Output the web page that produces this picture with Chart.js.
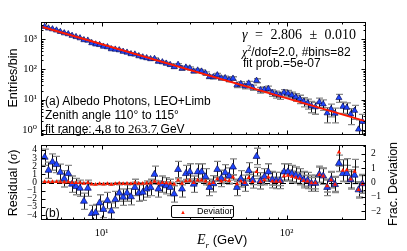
<!DOCTYPE html>
<html lang="en">
<head>
<meta charset="UTF-8">
<title>Albedo Photons, LEO+Limb</title>
<script src="https://cdn.jsdelivr.net/npm/chart.js"></script>
<style>
  body { margin: 0; background: #fff; }
  #fig { position: relative; width: 407px; height: 251px; overflow: hidden; background: #fff;
         font-family: "Liberation Sans", Arial, sans-serif; color: #000; }
  canvas { position: absolute; left: 0; }
  #cTop { top: 0; }
  #cBot { top: 140px; }
  .txt { position: absolute; white-space: nowrap; font-size: 12px; line-height: 14px; }
  .m { font-family: "Liberation Serif", serif; }
  .rot { position: absolute; white-space: nowrap; font-size: 12.5px; line-height: 14px;
         transform: translate(-50%, -50%) rotate(-90deg); }
  .leg { position: absolute; left: 171px; top: 205px; width: 63px; height: 13px; box-sizing: border-box;
         border: 1px solid #000; border-radius: 2px; background: #fff; }
  .leg .tri { position: absolute; left: 8px; top: 2px; font-size: 6px; line-height: 8px; color: #ff1a00; }
  .leg .lab { position: absolute; left: 25px; top: 0px; font-size: 9px; line-height: 11px; }
</style>
</head>
<body>
<div id="fig">
  <canvas id="cTop" width="407" height="140"></canvas>
  <canvas id="cBot" width="407" height="111"></canvas>

  <div class="txt m" style="left:242px; top:28px; font-size:14px; word-spacing:4px;"><i>γ</i> = 2.806 ± 0.010</div>
  <div class="txt" style="left:242px; top:42px;"><span class="m"><i>χ</i><sup style="font-size:8px">2</sup></span>/dof=2.0, #bins=82</div>
  <div class="txt" style="left:243px; top:56px;">fit prob.=5e-07</div>

  <div class="txt" style="left:45px; top:94px;">(a) Albedo Photons, LEO+Limb</div>
  <div class="txt" style="left:45px; top:108px;">Zenith angle 110° to 115°</div>
  <div class="txt" style="left:45px; top:122px;">fit range: <span class="m" style="font-size:13px">4.8</span> to <span class="m" style="font-size:13px">263.7</span> GeV</div>
  <div class="txt" style="left:45px; top:206px;">(b)</div>

  <div class="leg"><span class="tri">▲</span><span class="lab">Deviation</span></div>

  <div class="rot" style="left:13px; top:78px;">Entries/bin</div>
  <div class="rot" style="left:13px; top:183px;">Residual (<span class="m"><i>σ</i></span>)</div>
  <div class="rot" style="left:393px; top:184px;">Frac. Deviation</div>
  <div class="txt" style="left:197px; top:233px; font-size:13px;"><span class="m" style="font-size:14px"><i>E</i><sub style="font-size:9px"><i>r</i></sub></span> (GeV)</div>
</div>

<script>
// bin centres (GeV), 82 log bins from 4.8 to 263.7
const binCenters = [4.92, 5.16, 5.42, 5.70, 5.98, 6.28, 6.60, 6.92, 7.27, 7.64,
  8.02, 8.42, 8.84, 9.28, 9.75, 10.23, 10.75, 11.28, 11.85, 12.45,
  13.07, 13.72, 14.41, 15.13, 15.89, 16.69, 17.52, 18.40, 19.32, 20.29,
  21.30, 22.37, 23.49, 24.66, 25.90, 27.20, 28.56, 29.99, 31.49, 33.07,
  34.73, 36.47, 38.29, 40.21, 42.23, 44.34, 46.56, 48.89, 51.34, 53.91,
  56.61, 59.43, 62.41, 65.55, 68.83, 72.27, 75.89, 79.69, 83.69, 87.87,
  92.26, 96.88, 101.7, 106.8, 112.2, 117.8, 123.7, 129.9, 136.4, 143.2,
  150.4, 157.9, 165.8, 174.1, 182.9, 192.0, 201.6, 211.7, 222.3, 233.4,
  245.1, 257.4];

// entries per bin and their errors
const counts = [2591, 2300, 2156, 1968, 1768, 1591, 1483, 1314, 1194, 1087,
  944, 911, 750, 683, 651, 575, 550, 473, 460, 436,
  389, 365, 325, 316, 278, 255, 239, 222, 226, 183,
  175, 158, 142, 121, 144.5, 106.7, 117.2, 110.2, 86.5, 93.5,
  86.4, 74.1, 57.8, 56.1, 65.2, 51.6, 52.5, 45.6, 50.3, 30.5,
  33.6, 28.0, 34.7, 25.4, 42.8, 21.0, 21.6, 23.1, 16.9, 15.2,
  13.9, 17.3, 16.1, 14.1, 12.3, 10.7, 8.7, 7.7, 6.2, 5.7,
  8.3, 7.1, 3.6, 4.9, 3.5, 11.5, 5.9, 5.5, 3.3, 4.35,
  1.05, 1.87];
const countErr = [50.9, 48.0, 46.4, 44.4, 42.0, 39.9, 38.5, 36.2, 34.6, 33.0,
  30.7, 30.2, 27.4, 26.1, 25.5, 24.0, 23.5, 21.7, 21.4, 20.9,
  19.7, 19.1, 18.0, 17.8, 16.7, 16.0, 15.5, 14.9, 15.0, 13.5,
  13.2, 12.6, 11.9, 11.0, 12.0, 10.3, 10.8, 10.5, 9.3, 9.7,
  9.3, 8.6, 7.6, 7.5, 8.1, 7.2, 7.2, 6.8, 7.1, 5.5,
  5.8, 5.3, 5.9, 5.0, 6.5, 4.6, 4.6, 4.8, 4.1, 3.9,
  3.7, 4.2, 4.0, 3.8, 3.5, 3.3, 2.9, 2.8, 2.5, 2.4,
  2.9, 2.7, 1.9, 2.2, 1.8, 3.4, 2.4, 2.3, 1.8, 2.1,
  1.1, 1.4];

// power-law fit over the fit range
const fitE = [4.8, 263.7];
const fitN = [2540, 1.99];

// residuals (sigma) and fractional deviation
const resid = [3.1, 1.5, 2.5, 2.2, 1.25, 0.45, 1.1, -0.2, -0.5, -0.7,
  -2.3, -0.7, -3.8, -3.7, -2.5, -3.3, -2.2, -3.5, -2.1, -1.3,
  -1.8, -1.3, -1.75, -0.6, -1.3, -1.2, -0.8, -0.6, 1.0, -0.8,
  -0.2, -0.4, -0.6, -1.4, 1.6, -0.8, 1.1, 1.3, -0.2, 1.3,
  1.3, 0.7, -0.6, -0.15, 1.6, 0.5, 1.2, 0.8, 1.9, -0.6,
  0.45, -0.1, 1.45, 0.3, 3.2, 0.2, 0.7, 1.3, 0.35, 0.25,
  0.25, 1.3, 1.3, 1.1, 0.9, 0.7, 0.35, 0.25, -0.1, -0.1,
  1.0, 0.8, -0.6, 0.35, -0.25, 2.35, 1.1, 1.1, 0.35, 0.9,
  -0.9, -0.15];
const frac = [0.06, 0.03, 0.05, 0.05, 0.03, 0.01, 0.03, -0.01, -0.01, -0.02,
  -0.07, -0.02, -0.12, -0.13, -0.09, -0.12, -0.09, -0.14, -0.09, -0.06,
  -0.09, -0.07, -0.09, -0.03, -0.07, -0.07, -0.05, -0.04, 0.07, -0.06,
  -0.02, -0.03, -0.05, -0.12, 0.15, -0.07, 0.11, 0.14, -0.02, 0.15,
  0.16, 0.09, -0.07, -0.02, 0.24, 0.08, 0.19, 0.13, 0.36, -0.1,
  0.08, -0.02, 0.33, 0.06, 0.75, 0.05, 0.17, 0.37, 0.09, 0.07,
  0.07, 0.45, 0.48, 0.41, 0.34, 0.28, 0.13, 0.09, -0.04, -0.04,
  0.53, 0.43, -0.25, 0.17, -0.13, 2.1, 0.84, 0.86, 0.22, 0.76,
  -0.5, -0.1];
const fracErr = [.021, .022, .023, .024, .025, .025, .027, .027, .029, .030,
  .030, .032, .032, .033, .036, .037, .039, .039, .042, .045,
  .046, .049, .050, .054, .056, .058, .061, .064, .071, .070,
  .074, .077, .080, .080, .096, .090, .103, .109, .105, .119,
  .125, .126, .122, .131, .154, .150, .165, .168, .192, .163,
  .187, .186, .226, .211, .299, .228, .253, .285, .265, .275,
  .287, .350, .368, .376, .383, .390, .384, .393, .385, .404,
  .53, .54, .41, .53, .48, .97, .75, .80, .67, .84,
  .49, .66];

const xTicks = [10, 100];
const topTicks = [1, 10, 100, 1000];
const residTicks = [-4, -3, -2, -1, 0, 1, 2, 3, 4];
const fracTicks = [-2, -1, 0, 1, 2];

const xMin = 4.7, xMax = 269;

Chart.defaults.font.family = "'Liberation Serif', 'DejaVu Serif', serif";
Chart.defaults.color = '#000';

const sup = { '-': '⁻', '0': '⁰', '1': '¹', '2': '²', '3': '³', '4': '⁴' };
function powLabel(v) {
  const n = Math.round(Math.log10(v));
  return '10' + String(n).split('').map(c => sup[c]).join('');
}
function minusLabel(v) {
  return v < 0 ? '−' + Math.abs(v) : String(v);
}
function pts(xs, ys) {
  return xs.map((x, i) => ({ x: x, y: ys[i] }));
}
// pin the axis box so the plot area lands where the reference has it
function pinWidth(w) {
  return s => { s.width = w; s.paddingTop = 0; s.paddingBottom = 0; };
}
function pinHeight(h) {
  return s => { s.height = h; s.paddingLeft = 0; s.paddingRight = 0; };
}

function logMarks(min, max) {
  const out = [];
  for (let n = Math.floor(Math.log10(min)); n <= Math.ceil(Math.log10(max)); n++) {
    for (let d = 1; d <= 9; d++) {
      const v = d * Math.pow(10, n);
      if (v >= min && v <= max) out.push([v, d === 1]);
    }
  }
  return out;
}
function linMarks(min, max, major, minor) {
  const out = [];
  for (let v = Math.ceil(min / minor) * minor; v <= max + 1e-9; v += minor) {
    const r = Math.round(v / minor) * minor;
    out.push([r, Math.abs(r / major - Math.round(r / major)) < 1e-6]);
  }
  return out;
}

// which edges get the inward ticks
const tickSides = {
  cTop: [{ id: 'x', sides: ['top', 'bottom'] }, { id: 'y', sides: ['left', 'right'] }],
  cBot: [{ id: 'x', sides: ['top', 'bottom'] },
         { id: 'yRes', sides: ['left'], major: 1, minor: 1 },
         { id: 'yFrac', sides: ['right'], major: 1, minor: 0.5 }]
};

const axisFrame = {
  id: 'axisFrame',
  beforeDatasetsDraw(chart) {
    if (chart.canvas.id !== 'cBot') return;
    const ctx = chart.ctx, a = chart.chartArea;
    const y0 = Math.round(chart.scales.yRes.getPixelForValue(0)) + 0.5;
    ctx.save();
    ctx.strokeStyle = '#000';
    ctx.lineWidth = 1.2;
    ctx.setLineDash([5, 3]);
    ctx.beginPath();
    ctx.moveTo(a.left, y0);
    ctx.lineTo(a.right, y0);
    ctx.stroke();
    ctx.restore();
  },
  afterDatasetsDraw(chart) {
    const ctx = chart.ctx, a = chart.chartArea;
    ctx.save();
    ctx.strokeStyle = '#000';
    ctx.lineWidth = 1;
    tickSides[chart.canvas.id].forEach(ax => {
      const s = chart.scales[ax.id];
      const marks = s.type === 'logarithmic' ? logMarks(s.min, s.max) : linMarks(s.min, s.max, ax.major, ax.minor);
      marks.forEach(([v, major]) => {
        const len = major ? 4.5 : 2.5;
        const p = Math.round(s.getPixelForValue(v)) + 0.5;
        ctx.beginPath();
        ax.sides.forEach(side => {
          if (side === 'top') { ctx.moveTo(p, a.top); ctx.lineTo(p, a.top + len); }
          if (side === 'bottom') { ctx.moveTo(p, a.bottom); ctx.lineTo(p, a.bottom - len); }
          if (side === 'left') { ctx.moveTo(a.left, p); ctx.lineTo(a.left + len, p); }
          if (side === 'right') { ctx.moveTo(a.right, p); ctx.lineTo(a.right - len, p); }
        });
        ctx.stroke();
      });
    });
    ctx.strokeRect(a.left + 0.5, a.top + 0.5, a.width - 1, a.height - 1);
    ctx.restore();
  }
};

const errorBars = {
  id: 'errorBars',
  beforeDatasetsDraw(chart) {
    const ctx = chart.ctx, a = chart.chartArea;
    ctx.save();
    ctx.beginPath();
    ctx.rect(a.left, a.top, a.width, a.height);
    ctx.clip();
    chart.data.datasets.forEach((ds, i) => {
      if (!ds.errors) return;
      const meta = chart.getDatasetMeta(i);
      const xs = meta.xScale, ys = meta.yScale;
      ds.data.forEach((p, j) => {
        const e = ds.errors[j];
        let lo = p.y - e;
        if (ys.type === 'logarithmic' && lo <= ys.min) lo = ys.min * 0.5;
        const px = Math.round(xs.getPixelForValue(p.x)) + 0.5;
        const y1 = ys.getPixelForValue(p.y + e);
        const y2 = ys.getPixelForValue(lo);
        ctx.strokeStyle = '#111';
        ctx.lineWidth = 1;
        ctx.beginPath();
        ctx.moveTo(px, y1);
        ctx.lineTo(px, y2);
        ctx.stroke();
        ctx.strokeStyle = '#8a8a8a';
        ctx.lineWidth = 1.3;
        ctx.beginPath();
        ctx.moveTo(px - 3.5, y1); ctx.lineTo(px + 3.5, y1);
        ctx.moveTo(px - 3.5, y2); ctx.lineTo(px + 3.5, y2);
        ctx.stroke();
      });
    });
    ctx.restore();
  }
};

const blue = '#1e46ff', blueEdge = '#10105a', red = '#ff1a00';

new Chart(document.getElementById('cTop'), {
  type: 'scatter',
  data: {
    datasets: [
      {
        label: 'fit', type: 'line', data: pts(fitE, fitN), borderColor: red, borderWidth: 2,
        pointRadius: 0, order: 0
      },
      {
        label: 'Entries', data: pts(binCenters, counts), errors: countErr, pointStyle: 'triangle',
        pointRadius: 3.5, backgroundColor: blue, borderColor: blueEdge, borderWidth: 0.7, order: 1
      }
    ]
  },
  options: {
    responsive: false, maintainAspectRatio: false, animation: false, devicePixelRatio: 1,
    layout: { padding: { top: 22, right: 41, bottom: 5, left: 0 } },
    plugins: { legend: { display: false }, tooltip: { enabled: false } },
    scales: {
      x: { type: 'logarithmic', min: xMin, max: xMax, display: false },
      y: {
        type: 'logarithmic', min: 0.68, max: 3700, position: 'left',
        afterFit: pinWidth(41),
        afterBuildTicks(s) { s.ticks = topTicks.map(v => ({ value: v })); },
        grid: { display: false, drawTicks: false }, border: { display: false },
        ticks: { callback: v => powLabel(v), font: { size: 10.5 }, padding: 4, autoSkip: false }
      }
    }
  },
  plugins: [errorBars, axisFrame]
});

new Chart(document.getElementById('cBot'), {
  type: 'scatter',
  data: {
    datasets: [
      {
        label: 'Residual', data: pts(binCenters, resid), yAxisID: 'yRes', errors: binCenters.map(() => 1),
        pointStyle: 'triangle', pointRadius: 4, backgroundColor: blue, borderColor: blueEdge,
        borderWidth: 0.7, order: 1
      },
      {
        label: 'Deviation', data: pts(binCenters, frac), yAxisID: 'yFrac', errors: fracErr,
        pointStyle: 'triangle', pointRadius: 2.5, backgroundColor: red, borderColor: red,
        borderWidth: 0, order: 0
      }
    ]
  },
  options: {
    responsive: false, maintainAspectRatio: false, animation: false, devicePixelRatio: 1,
    layout: { padding: { top: 5, right: 0, bottom: 0, left: 0 } },
    plugins: { legend: { display: false }, tooltip: { enabled: false } },
    scales: {
      x: {
        type: 'logarithmic', min: xMin, max: xMax, position: 'bottom',
        afterFit: pinHeight(31),
        afterBuildTicks(s) { s.ticks = xTicks.map(v => ({ value: v })); },
        grid: { display: false, drawTicks: false }, border: { display: false },
        ticks: { callback: v => powLabel(v), font: { size: 10.5 }, padding: 7, autoSkip: false, maxRotation: 0 }
      },
      yRes: {
        type: 'linear', min: -4.6, max: 4.6, position: 'left',
        afterFit: pinWidth(41),
        afterBuildTicks(s) { s.ticks = residTicks.map(v => ({ value: v })); },
        grid: { display: false, drawTicks: false }, border: { display: false },
        ticks: { callback: v => minusLabel(v), font: { size: 9.5 }, padding: 4, autoSkip: false }
      },
      yFrac: {
        type: 'linear', min: -2.6, max: 2.6, position: 'right',
        afterFit: pinWidth(41),
        afterBuildTicks(s) { s.ticks = fracTicks.map(v => ({ value: v })); },
        grid: { display: false, drawTicks: false }, border: { display: false },
        ticks: { callback: v => minusLabel(v), font: { size: 9.5 }, padding: 5, autoSkip: false }
      }
    }
  },
  plugins: [errorBars, axisFrame]
});
</script>
</body>
</html>
